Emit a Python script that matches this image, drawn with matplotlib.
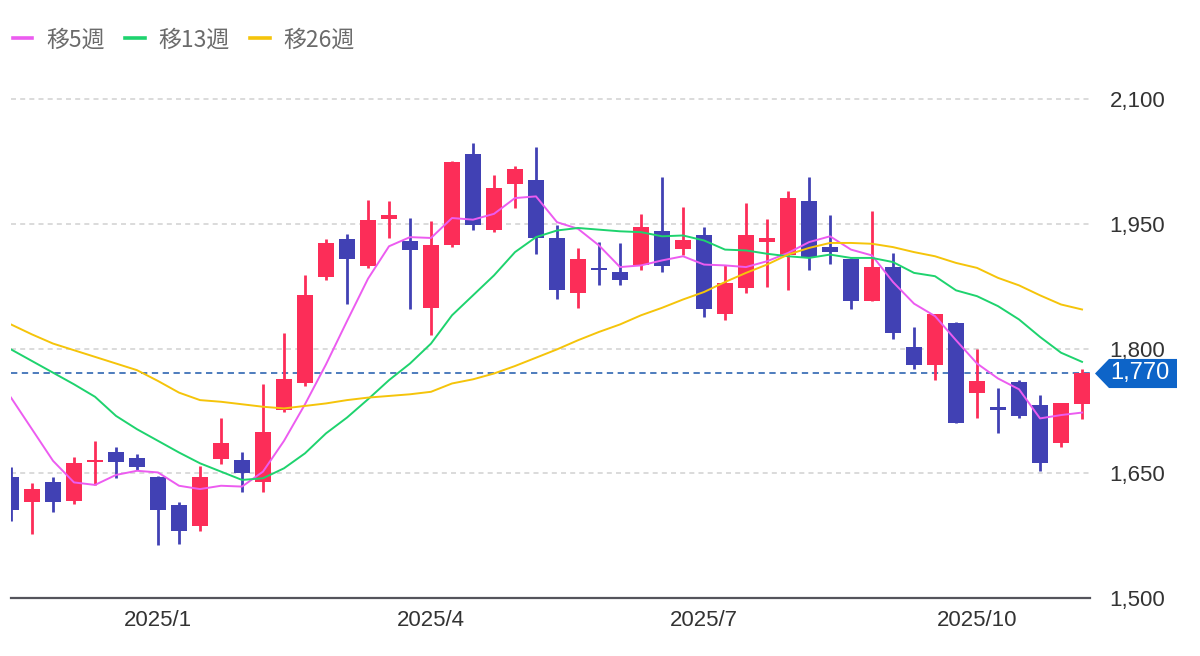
import matplotlib
matplotlib.use('Agg')
import matplotlib.pyplot as plt
import matplotlib.transforms as mtransforms
from matplotlib.lines import Line2D
from matplotlib.patches import Polygon
import numpy as np
import pandas as pd

plt.rcParams['font.family'] = ['Liberation Sans', 'Noto Sans CJK JP', 'DejaVu Sans']

# Weekly candles (week starting Monday)
# ----------------------------------------------------------------------------

weeks = pd.date_range('2024-11-11', periods=52, freq='W-MON')

open_ = [1646, 1615, 1640, 1617, 1663, 1676, 1668, 1646, 1612, 1587, 1667, 1666, 1639,
         1726, 1758, 1886, 1932, 1899, 1956, 1929, 1849, 1924, 2034, 1942, 1998, 2003,
         1933, 1867, 1897, 1892, 1901, 1941, 1920, 1936, 1841, 1873, 1928, 1912, 1978,
         1922, 1908, 1857, 1898, 1802, 1780, 1831, 1746, 1730, 1760, 1732, 1687, 1733]
high = [1658, 1638, 1645, 1670, 1689, 1681, 1673, 1647, 1615, 1659, 1716, 1676, 1757,
        1819, 1889, 1932, 1938, 1979, 1977, 1957, 1954, 2026, 2047, 2009, 2020, 2042,
        1949, 1921, 1928, 1927, 1962, 2006, 1970, 1946, 1900, 1975, 1956, 1989, 2006,
        1961, 1909, 1965, 1915, 1826, 1842, 1832, 1800, 1752, 1762, 1744, 1735, 1776]
low = [1593, 1577, 1604, 1613, 1636, 1644, 1654, 1564, 1565, 1581, 1661, 1627, 1627,
       1724, 1755, 1883, 1854, 1897, 1933, 1847, 1816, 1922, 1943, 1940, 1969, 1914,
       1860, 1849, 1877, 1877, 1895, 1892, 1913, 1838, 1834, 1867, 1874, 1870, 1894,
       1902, 1847, 1857, 1811, 1775, 1762, 1710, 1717, 1698, 1717, 1653, 1681, 1715]
close = [1606, 1631, 1616, 1662, 1666, 1664, 1657, 1606, 1581, 1645, 1686, 1650, 1700,
         1763, 1865, 1927, 1908, 1955, 1961, 1918, 1925, 2024, 1948, 1993, 2016, 1933,
         1870, 1908, 1895, 1882, 1946, 1899, 1931, 1847, 1879, 1936, 1933, 1981, 1910,
         1916, 1857, 1898, 1819, 1780, 1841, 1710, 1761, 1726, 1719, 1662, 1734, 1770]

# moving averages
ma5 = [1741, 1703, 1665, 1639, 1636, 1648, 1653, 1651, 1635, 1631, 1635, 1634, 1652,
       1689, 1733, 1781, 1833, 1884, 1923, 1934, 1933, 1957, 1955, 1962, 1981, 1983,
       1952, 1944, 1924, 1898, 1900, 1906, 1911, 1901, 1900, 1898, 1905, 1915, 1928,
       1935, 1919, 1912, 1880, 1854, 1839, 1810, 1782, 1764, 1751, 1716, 1720, 1723]
ma13 = [1799, 1785, 1771, 1757, 1742, 1719, 1703, 1689, 1675, 1662, 1652, 1642, 1644,
        1656, 1674, 1698, 1717, 1739, 1762, 1782, 1806, 1840, 1864, 1888, 1916, 1934,
        1942, 1945, 1943, 1941, 1940, 1935, 1936, 1930, 1919, 1918, 1914, 1911, 1909,
        1913, 1909, 1909, 1904, 1891, 1887, 1870, 1863, 1851, 1835, 1814, 1795, 1784]
ma26 = [1829, 1817, 1806, 1798, 1790, 1782, 1774, 1761, 1747, 1738, 1736, 1733, 1730,
        1728, 1731, 1734, 1738, 1741, 1743, 1745, 1748, 1758, 1763, 1770, 1779, 1789,
        1799, 1810, 1820, 1829, 1840, 1849, 1859, 1868, 1880, 1891, 1901, 1913, 1921,
        1927, 1927, 1926, 1922, 1916, 1911, 1903, 1897, 1885, 1876, 1864, 1853, 1847]

last_price = 1770
yticks = [1500, 1650, 1800, 1950, 2100]
month_ticks = (1, 4, 7, 10)

# Plot
# ----------------------------------------------------------------------------

up_color = '#fc2d58'
down_color = '#4141b4'

o = np.array(open_, dtype=float)
c = np.array(close, dtype=float)
x = np.arange(len(weeks))
colors = [up_color if cc >= oo else down_color for oo, cc in zip(o, c)]

fig = plt.figure(figsize=(12, 6.56), dpi=100)
ax = fig.add_axes([11 / 1200, 1 - 598 / 656, (1090 - 11) / 1200, (598 - 70) / 656])

ax.vlines(x, low, high, colors=colors, lw=2, zorder=3)
ax.bar(x, np.maximum(np.abs(c - o), 2), bottom=np.minimum(o, c), width=0.8,
       color=colors, zorder=3)

ax.plot(x, ma5, color='#ec5cf0', lw=1.4, zorder=4)
ax.plot(x, ma13, color='#1ed36e', lw=1.4, zorder=4)
ax.plot(x, ma26, color='#f5c40a', lw=1.4, zorder=4)

ax.axhline(last_price, color='#3f72b8', ls=(0, (3.5, 2.5)), lw=1.3, zorder=2)

ax.set_xlim(0, 51.38)
ax.set_ylim(1500, 2135)

# x ticks at the week that holds the 1st of Jan/Apr/Jul/Oct
tick_pos, tick_lab = [], []
for i, d in enumerate(weeks):
    end = d + pd.Timedelta(days=6)
    if end.day <= 7 and end.month in month_ticks:
        tick_pos.append(i)
        tick_lab.append(f'{end.year}/{end.month}')
ax.set_xticks(tick_pos)
ax.set_xticklabels(tick_lab)

ax.yaxis.tick_right()
ax.set_yticks(yticks)
ax.set_yticklabels([f'{v:,}' for v in yticks])
ax.tick_params(axis='y', length=0, pad=14, labelsize=16, labelcolor='#333333')
ax.tick_params(axis='x', length=0, pad=9, labelsize=16, labelcolor='#333333')

ax.grid(axis='y', color='#d4d4d4', ls=(0, (3, 2.5)), lw=1.2)
ax.set_axisbelow(True)
for s in ('top', 'left', 'right'):
    ax.spines[s].set_visible(False)
ax.spines['bottom'].set_color('#54545c')
ax.spines['bottom'].set_linewidth(1.6)

# last price badge
tr = mtransforms.blended_transform_factory(fig.transFigure, ax.transData)
x0, x1, x2 = 1095 / 1200, 1109 / 1200, 1177 / 1200
h = 17.5
badge = Polygon([(x0, last_price), (x1, last_price + h), (x2, last_price + h),
                 (x2, last_price - h), (x1, last_price - h)],
                closed=True, transform=tr, facecolor='#0d64c8', edgecolor='none',
                clip_on=False, zorder=5)
ax.add_patch(badge)
ax.text(1140 / 1200, last_price, f'{last_price:,}', transform=tr, color='white',
        fontsize=17, ha='center', va='center', zorder=6)

# legend
handles = [Line2D([], [], color='#ec5cf0', lw=2.6),
           Line2D([], [], color='#1ed36e', lw=2.6),
           Line2D([], [], color='#f5c40a', lw=2.6)]
fig.legend(handles, ['移5週', '移13週', '移26週'], loc='center left',
           bbox_to_anchor=(13 / 1200, 1 - 40 / 656), ncol=3, frameon=False,
           prop={'family': ['Noto Sans CJK JP'], 'size': 16.5}, labelcolor='#6b6b6b',
           handlelength=0.85, handletextpad=0.6, columnspacing=0.9,
           borderpad=0, borderaxespad=0)

fig.savefig('out.png', dpi=100)
